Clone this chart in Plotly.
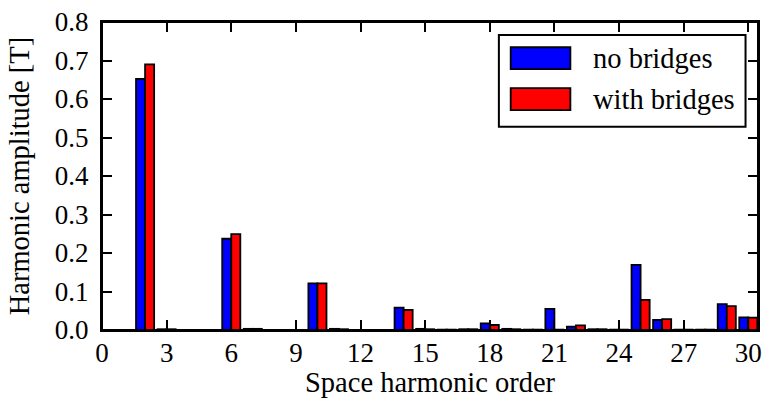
import plotly.graph_objects as go

# Data
orders = list(range(1, 31))
no_bridges = [0.000, 0.652, 0.002, 0.000, 0.000, 0.237, 0.003, 0.000, 0.000, 0.121,
              0.003, 0.000, 0.000, 0.058, 0.003, 0.001, 0.002, 0.017, 0.003, 0.001,
              0.055, 0.009, 0.002, 0.001, 0.169, 0.026, 0.001, 0.001, 0.067, 0.033]
with_bridges = [0.000, 0.690, 0.002, 0.000, 0.000, 0.249, 0.003, 0.000, 0.000, 0.121,
                0.002, 0.000, 0.000, 0.052, 0.002, 0.001, 0.002, 0.013, 0.002, 0.001,
                0.001, 0.012, 0.002, 0.001, 0.078, 0.028, 0.001, 0.001, 0.062, 0.032]
series_names = ["no bridges", "with bridges"]
series_colors = ["#0000ff", "#ff0000"]
x_ticks = list(range(0, 31, 3))
y_ticks = [0.0, 0.1, 0.2, 0.3, 0.4, 0.5, 0.6, 0.7, 0.8]
x_title = "Space harmonic order"
y_title = "Harmonic amplitude [T]"

FONT = "Liberation Serif, Times New Roman, serif"
FS_TICK = 27
FS_TEXT = 28.5

fig = go.Figure()
for name, vals, col in zip(series_names, [no_bridges, with_bridges], series_colors):
    fig.add_trace(go.Bar(
        x=orders, y=vals, name=name,
        marker=dict(color=col, line=dict(color="black", width=1.8)),
        showlegend=False,
    ))

fig.update_layout(
    width=764, height=402,
    margin=dict(l=102, r=6, t=22, b=72, autoexpand=False),
    paper_bgcolor="white", plot_bgcolor="white",
    barmode="group", bargap=0.16, bargroupgap=0.0,
    font=dict(family=FONT, size=FS_TICK, color="black"),
)

axis_common = dict(
    showline=True, linecolor="black", linewidth=2, mirror="ticks",
    ticks="inside", ticklen=10, tickwidth=1.8, tickcolor="black",
    showgrid=False, zeroline=False, automargin=False,
    tickfont=dict(family=FONT, size=FS_TICK, color="black"),
)
fig.update_xaxes(
    range=[0, 30.45], tickmode="array", tickvals=x_ticks,
    ticktext=[str(v) for v in x_ticks],
    ticklabelstandoff=-2,
    **axis_common,
)
fig.update_yaxes(
    range=[0, 0.8001], tickmode="array", tickvals=y_ticks,
    ticktext=[f"{v:.1f}" for v in y_ticks],
    ticklabelstandoff=6,
    **axis_common,
)

annotations = [
    dict(xref="paper", yref="paper", x=0.5, y=-0.172, text=x_title, showarrow=False,
         xanchor="center", yanchor="middle", font=dict(family=FONT, size=FS_TEXT, color="black")),
    dict(xref="paper", yref="paper", x=-0.126, y=0.5, text=y_title, showarrow=False,
         textangle=-90, xanchor="center", yanchor="middle",
         font=dict(family=FONT, size=FS_TEXT, color="black")),
]

# plot frame + custom legend (matplotlib-style wide swatches)
shapes = [
    dict(type="rect", xref="paper", yref="paper", x0=0, x1=1, y0=0, y1=1,
         line=dict(color="black", width=2), layer="above"),
    dict(type="rect", xref="paper", yref="paper", x0=0.605, x1=0.981,
         y0=0.660, y1=0.958, line=dict(color="black", width=2),
         fillcolor="white", layer="above"),
]
swatch_y = [(0.847, 0.918), (0.714, 0.785)]
for (y0, y1), name, col in zip(swatch_y, series_names, series_colors):
    shapes.append(dict(type="rect", xref="paper", yref="paper", x0=0.623, x1=0.714,
                       y0=y0, y1=y1, line=dict(color="black", width=1.8),
                       fillcolor=col, layer="above"))
    annotations.append(dict(xref="paper", yref="paper", x=0.746, y=(y0 + y1) / 2,
                            text=name, showarrow=False, xanchor="left", yanchor="middle",
                            font=dict(family=FONT, size=FS_TEXT, color="black")))
fig.update_layout(shapes=shapes, annotations=annotations)

fig.write_html("out.html", config={"displayModeBar": False},
               post_script="document.body.style.margin='0';document.body.style.overflow='hidden';")
